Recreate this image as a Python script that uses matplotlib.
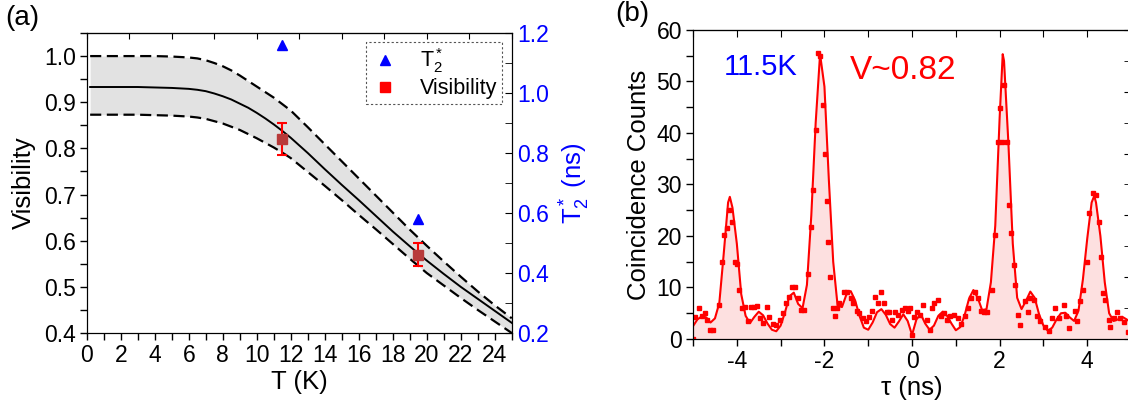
import numpy as np
import matplotlib
matplotlib.use('Agg')
import matplotlib.pyplot as plt
from matplotlib.ticker import MultipleLocator, FormatStrFormatter
from matplotlib.lines import Line2D

plt.rcParams['font.family'] = ['Liberation Sans', 'DejaVu Sans']
plt.rcParams['mathtext.fontset'] = 'custom'
plt.rcParams['mathtext.rm'] = 'Liberation Sans'
plt.rcParams['mathtext.it'] = 'Liberation Sans:italic'
plt.rcParams['mathtext.default'] = 'regular'
plt.rcParams['axes.unicode_minus'] = False

# ---- (a) visibility vs temperature ----
T_curve = [0.2, 1, 2, 3, 4, 5, 5.5, 6, 6.5, 7, 7.5, 8, 8.5, 9, 9.5, 10,
           10.5, 11, 11.5, 12, 13, 14, 15, 16, 17, 18, 19, 20, 21, 22, 23,
           24, 25]
V_mid = [0.933, 0.933, 0.933, 0.933, 0.932, 0.931, 0.930, 0.929, 0.927,
         0.924, 0.919, 0.913, 0.906, 0.897, 0.888, 0.877, 0.865, 0.852,
         0.838, 0.823, 0.790, 0.755, 0.721, 0.688, 0.654, 0.620, 0.588,
         0.557, 0.528, 0.500, 0.474, 0.448, 0.422]
V_upper = [1.0, 1.0, 1.0, 1.0, 1.0, 0.999, 0.998, 0.997, 0.995, 0.991,
           0.985, 0.978, 0.969, 0.958, 0.946, 0.934, 0.922, 0.910, 0.896,
           0.882, 0.846, 0.809, 0.772, 0.735, 0.698, 0.661, 0.624, 0.589,
           0.555, 0.522, 0.490, 0.460, 0.432]
V_lower = [0.873, 0.873, 0.873, 0.873, 0.872, 0.871, 0.870, 0.869, 0.867,
           0.864, 0.859, 0.854, 0.847, 0.840, 0.831, 0.822, 0.812, 0.802,
           0.791, 0.779, 0.749, 0.719, 0.688, 0.656, 0.625, 0.593, 0.561,
           0.530, 0.503, 0.476, 0.450, 0.425, 0.400]
T_meas = [11.5, 19.5]
V_meas = [0.82, 0.57]
V_err = [0.035, 0.025]
T2_meas = [1.16, 0.58]

# ---- (b) coincidence histogram at 11.5 K ----
fit_tau = [-5.0, -4.9, -4.8, -4.7, -4.6, -4.5, -4.4, -4.3, -4.2, -4.16, -4.1,
           -4.0, -3.9, -3.8, -3.7, -3.6, -3.5, -3.4, -3.3, -3.2, -3.1, -3.0,
           -2.9, -2.8, -2.7, -2.6, -2.5, -2.4, -2.3, -2.2, -2.1, -2.0, -1.9,
           -1.8, -1.7, -1.6, -1.5, -1.4, -1.3, -1.2, -1.1, -1.0, -0.9, -0.8,
           -0.7, -0.6, -0.5, -0.4, -0.3, -0.2, -0.1, 0.0, 0.1, 0.2, 0.3, 0.4,
           0.5, 0.6, 0.7, 0.8, 0.9, 1.0, 1.1, 1.2, 1.3, 1.4, 1.5, 1.6, 1.7,
           1.8, 1.9, 2.0, 2.07, 2.1, 2.2, 2.3, 2.4, 2.5, 2.6, 2.7, 2.8, 2.9,
           3.0, 3.1, 3.2, 3.3, 3.4, 3.5, 3.6, 3.7, 3.8, 3.9, 4.0, 4.1, 4.16,
           4.2, 4.3, 4.4, 4.5, 4.6, 4.7, 4.8, 4.9, 5.0]
fit_counts = [2.5, 3.8, 4.4, 4.2, 3.2, 4.0, 7.0, 16.5, 26.5, 27.6, 25.5,
              18.5, 8.7, 4.5, 3.1, 4.3, 5.3, 4.6, 3.0, 1.8, 1.5, 2.6,
              5.2, 8.3, 9.0, 6.8, 6.0, 10.5, 24.0, 42.0, 55.3, 49.0, 31.0,
              15.0, 6.5, 6.2, 8.6, 9.3, 7.5, 4.5, 2.2, 1.8, 3.2, 5.2,
              5.8, 4.7, 2.9, 2.2, 3.4, 4.8, 3.5, 0.8, 3.8, 4.8, 3.0, 1.8,
              2.6, 4.5, 5.3, 4.5, 3.0, 1.7, 2.3, 4.6, 7.8, 9.5, 8.0, 5.6, 5.8,
              11.0, 22.0, 43.0, 55.3, 54.0, 38.0, 18.5, 8.0, 5.8, 7.4, 9.2, 8.0, 4.8,
              2.6, 1.6, 2.2, 3.8, 5.0, 5.1, 4.2, 3.5, 5.5, 11.5, 19.5, 26.5, 27.8,
              26.5, 20.0, 11.0, 5.0, 3.5, 3.8, 4.3, 3.8, 3.2]

pts_tau = [-5.00, -4.95, -4.87, -4.80, -4.73, -4.67, -4.61, -4.55, -4.41,
           -4.35, -4.29, -4.23, -4.19, -4.12, -4.05, -3.99, -3.95, -3.89,
           -3.82, -3.75, -3.68, -3.61, -3.54, -3.47, -3.40, -3.32, -3.26,
           -3.17, -3.10, -3.02, -2.94, -2.87, -2.80, -2.74, -2.67, -2.60,
           -2.53, -2.46, -2.38, -2.30, -2.26, -2.20, -2.14, -2.10, -2.03,
           -1.99, -1.95, -1.91, -1.87, -1.80, -1.76, -1.72, -1.66, -1.55,
           -1.48, -1.40, -1.34, -1.26, -1.20, -1.13, -1.06, -0.98, -0.91,
           -0.85, -0.77, -0.70, -0.64, -0.58, -0.52, -0.46, -0.39, -0.32,
           -0.24, -0.17, -0.10, -0.05, 0.00, 0.05, 0.11, 0.18, 0.26, 0.34,
           0.41, 0.45, 0.51, 0.59, 0.66, 0.73, 0.79, 0.87, 0.95, 1.04, 1.12,
           1.20, 1.28, 1.35, 1.43, 1.51, 1.58, 1.64, 1.71, 1.82, 1.90, 1.96,
           2.01, 2.06, 2.10, 2.16, 2.22, 2.26, 2.32, 2.35, 2.41, 2.47, 2.57,
           2.65, 2.70, 2.78, 2.85, 2.93, 3.04, 3.12, 3.19, 3.27, 3.35, 3.46,
           3.52, 3.59, 3.71, 3.76, 3.84, 3.90, 3.99, 4.05, 4.13, 4.20, 4.26,
           4.32, 4.37, 4.40, 4.49, 4.52, 4.60, 4.68, 4.75, 4.83, 4.93]
pts_counts = [0.0, 4.3, 6.1, 4.5, 5.0, 3.7, 1.7, 1.7, 6.6,
              15.0, 20.2, 21.5, 25.0, 22.8, 15.0, 14.5, 9.5, 6.0,
              6.3, 3.4, 6.3, 6.3, 6.4, 4.0, 3.1, 6.3, 4.3,
              3.0, 2.7, 3.7, 5.0, 6.9, 8.2, 10.1, 10.0, 8.0,
              5.6, 5.6, 12.7, 21.8, 29.0, 40.6, 55.5, 55.0, 45.4,
              36.0, 26.7, 18.9, 12.0, 6.0, 4.4, 6.0, 7.0, 9.2,
              9.2, 8.0, 7.0, 5.5, 5.0, 4.0, 3.4, 4.3, 5.5,
              8.2, 7.0, 9.2, 7.0, 5.3, 5.3, 3.7, 5.3, 4.6,
              5.6, 6.1, 5.5, 6.0, 0.8, 4.3, 5.3, 4.6, 6.6, 3.7,
              1.7, 6.0, 6.9, 7.6, 4.5, 5.0, 3.7, 4.5, 4.6, 4.1, 2.9,
              4.5, 6.0, 7.9, 9.2, 7.9, 5.5, 5.3, 5.3, 9.5, 20.1, 38.3,
              44.9, 38.3, 49.3, 38.3, 26.0, 20.5, 14.4, 10.5, 4.7, 2.8, 7.3,
              5.2, 7.9, 7.6, 4.5, 3.4, 2.4, 1.6, 4.0, 6.0, 4.0, 6.6,
              4.5, 2.2, 5.4, 3.4, 7.3, 9.5, 15.0, 24.4, 28.3, 28.0, 22.8,
              16.0, 8.9, 7.6, 3.7, 2.4, 4.0, 5.3, 4.0, 3.3, 1.4]

fig = plt.figure(figsize=(11.28, 4.04), dpi=100)

# ---------------- panel (a)
ax = fig.add_axes([0.0769, 0.1757, 0.3768, 0.7426])
ax.fill_between(T_curve, V_lower, V_upper, color='#e2e2e2', lw=0, zorder=1)
ax.plot(T_curve, V_upper, color='black', lw=1.6, ls=(0, (5, 2.5)), zorder=3)
ax.plot(T_curve, V_lower, color='black', lw=1.6, ls=(0, (5, 2.5)), zorder=3)
ax.plot(T_curve, V_mid, color='black', lw=1.4, zorder=3)
ax.errorbar(T_meas, V_meas, yerr=V_err, fmt='s', ms=6.5, mfc='#b83a3a',
            mec='#b83a3a', ecolor='red', elinewidth=1.5, capsize=3.5,
            capthick=1.5, zorder=4)
ax.set_xlim(0, 25)
ax.set_ylim(0.4, 1.05)
ax.xaxis.set_major_locator(MultipleLocator(2))
ax.xaxis.set_minor_locator(MultipleLocator(1))
ax.yaxis.set_major_locator(MultipleLocator(0.1))
ax.yaxis.set_minor_locator(MultipleLocator(0.05))
ax.yaxis.set_major_formatter(FormatStrFormatter('%.1f'))
ax.tick_params(axis='both', which='both', direction='out', length=5,
               width=1, labelsize=16.5, pad=3)
ax.set_xlabel('T (K)', fontsize=18.5, labelpad=2)
ax.set_ylabel('Visibility', fontsize=18.5, labelpad=6)

# top ticks of panel (a)
axt = ax.secondary_xaxis('top')
axt.set_xticks(np.arange(0, 25.1, 2.5))
axt.tick_params(direction='in', length=4, labeltop=False)

ax2 = ax.twinx()
ax2.plot(T_meas, T2_meas, '^', color='blue', ms=7, zorder=5)
ax2.set_ylim(0.2, 1.2)
ax2.yaxis.set_major_locator(MultipleLocator(0.2))
ax2.yaxis.set_minor_locator(MultipleLocator(0.1))
ax2.yaxis.set_major_formatter(FormatStrFormatter('%.1f'))
ax2.tick_params(axis='y', which='both', direction='in', length=5,
                labelsize=16.5, labelcolor='blue', pad=4)
ax2.set_ylabel('T$_2^*$ (ns)', fontsize=18.5, color='blue', labelpad=6)

handles = [Line2D([], [], marker='^', color='blue', ls='none', ms=7),
           Line2D([], [], marker='s', color='red', ls='none', ms=7)]
leg = ax.legend(handles, ['T$_2^*$', 'Visibility'], loc='upper right',
                bbox_to_anchor=(0.977, 0.97), borderaxespad=0, fontsize=15.5,
                fancybox=False, framealpha=1, edgecolor='#555555',
                handletextpad=1.0, borderpad=0.2, labelspacing=0.15,
                handlelength=1.3)
leg.get_frame().set_linestyle((0, (2, 2)))
leg.get_frame().set_linewidth(0.8)
leg.set_zorder(10)

# ---------------- panel (b)
bx = fig.add_axes([0.6144, 0.1609, 0.3883, 0.7649])
bx.fill_between(fit_tau, fit_counts, 0, color='#fde0e0', lw=0, zorder=1)
bx.plot(fit_tau, fit_counts, color='red', lw=1.5, zorder=3)
bx.plot(pts_tau, pts_counts, 's', color='red', ms=3, zorder=4)
bx.set_xlim(-5, 5)
bx.set_ylim(0, 60)
bx.xaxis.set_major_locator(MultipleLocator(2))
bx.xaxis.set_minor_locator(MultipleLocator(1))
bx.yaxis.set_major_locator(MultipleLocator(10))
bx.yaxis.set_minor_locator(MultipleLocator(5))
bx.tick_params(axis='both', which='both', direction='out', length=5,
               width=1, labelsize=16.5, pad=3)
bx.set_xlabel('τ (ns)', fontsize=18.5, labelpad=2)
bx.set_ylabel('Coincidence Counts', fontsize=18.5, labelpad=4)
bx.text(0.07, 0.88, '11.5K', transform=bx.transAxes, fontsize=21,
        color='blue', va='center', ha='left')
bx.text(0.358, 0.87, 'V~0.82', transform=bx.transAxes, fontsize=24,
        color='red', va='center', ha='left')

bxt = bx.secondary_xaxis('top')
bxt.xaxis.set_major_locator(MultipleLocator(1))
bxt.tick_params(direction='in', length=5, labeltop=False)
bx2 = bx.twinx()
bx2.set_ylim(0, 60)
bx2.yaxis.set_major_locator(MultipleLocator(12))
bx2.yaxis.set_minor_locator(MultipleLocator(6))
bx2.tick_params(axis='y', which='both', direction='in', length=5,
                labelright=False)

fig.text(0.005, 0.955, '(a)', fontsize=20, va='center', ha='left')
fig.text(0.545, 0.965, '(b)', fontsize=20, va='center', ha='left')

fig.savefig('out.png', dpi=100)
